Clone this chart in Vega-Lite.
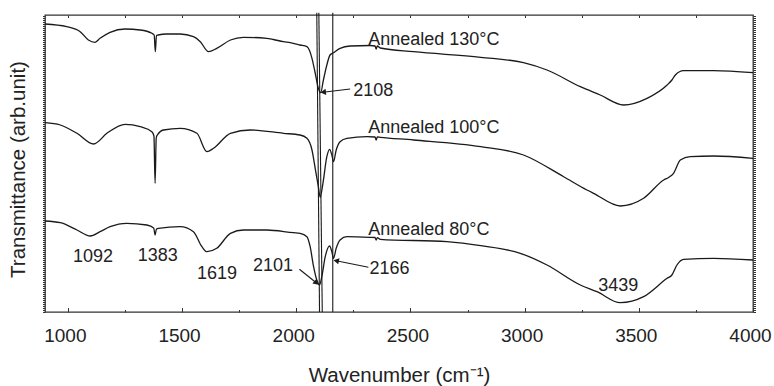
{
  "$schema": "https://vega.github.io/schema/vega-lite/v6.json",
  "width": 708,
  "height": 297,
  "autosize": "none",
  "padding": {"left": 45, "top": 15, "right": 21, "bottom": 74},
  "background": "white",
  "config": {
    "view": {"stroke": "#333333", "strokeWidth": 1.3},
    "font": "Liberation Sans",
    "axis": {"grid": false, "domain": false, "tickColor": "#333333", "labelColor": "#222222", "titleColor": "#222222", "titleFontWeight": "normal"}
  },
  "datasets": {
    "spectra": [
      {"s": "130", "w": 900, "t": 288}, {"s": "130", "w": 995, "t": 285.3}, {"s": "130", "w": 1054, "t": 280.3}, {"s": "130", "w": 1090, "t": 272}, {"s": "130", "w": 1119, "t": 269.7}, {"s": "130", "w": 1141, "t": 273.7}, {"s": "130", "w": 1185, "t": 279.7}, {"s": "130", "w": 1251, "t": 283}, {"s": "130", "w": 1317, "t": 282}, {"s": "130", "w": 1368, "t": 278.7}, {"s": "130", "w": 1378, "t": 277}, {"s": "130", "w": 1383, "t": 260.3}, {"s": "130", "w": 1388, "t": 276.5}, {"s": "130", "w": 1395, "t": 277}, {"s": "130", "w": 1433, "t": 278}, {"s": "130", "w": 1492, "t": 278}, {"s": "130", "w": 1550, "t": 275.3}, {"s": "130", "w": 1580, "t": 270.3}, {"s": "130", "w": 1616, "t": 260.3}, {"s": "130", "w": 1652, "t": 263.7}, {"s": "130", "w": 1712, "t": 272}, {"s": "130", "w": 1769, "t": 274.7}, {"s": "130", "w": 1871, "t": 273.7}, {"s": "130", "w": 1900, "t": 272.5}, {"s": "130", "w": 1944, "t": 270.3}, {"s": "130", "w": 1974, "t": 269.3}, {"s": "130", "w": 2017, "t": 267}, {"s": "130", "w": 2047, "t": 265.3}, {"s": "130", "w": 2069, "t": 253.7}, {"s": "130", "w": 2083, "t": 239}, {"s": "130", "w": 2097, "t": 223.7}, {"s": "130", "w": 2107, "t": 219.3}, {"s": "130", "w": 2119, "t": 232}, {"s": "130", "w": 2134, "t": 247}, {"s": "130", "w": 2148, "t": 257}, {"s": "130", "w": 2163, "t": 259.3}, {"s": "130", "w": 2192, "t": 263.7}, {"s": "130", "w": 2236, "t": 266}, {"s": "130", "w": 2324, "t": 266.5}, {"s": "130", "w": 2345, "t": 266}, {"s": "130", "w": 2350, "t": 263}, {"s": "130", "w": 2355, "t": 266}, {"s": "130", "w": 2368, "t": 264}, {"s": "130", "w": 2514, "t": 260.3}, {"s": "130", "w": 2808, "t": 254.7}, {"s": "130", "w": 2995, "t": 249.3}, {"s": "130", "w": 3098, "t": 242}, {"s": "130", "w": 3244, "t": 225.3}, {"s": "130", "w": 3331, "t": 217}, {"s": "130", "w": 3433, "t": 207}, {"s": "130", "w": 3536, "t": 213.7}, {"s": "130", "w": 3624, "t": 227}, {"s": "130", "w": 3645, "t": 232}, {"s": "130", "w": 3660, "t": 237}, {"s": "130", "w": 3696, "t": 241.3}, {"s": "130", "w": 3828, "t": 241.3}, {"s": "130", "w": 4000, "t": 239.3},

      {"s": "100", "w": 900, "t": 189.3}, {"s": "100", "w": 967, "t": 187}, {"s": "100", "w": 1040, "t": 178.7}, {"s": "100", "w": 1113, "t": 168}, {"s": "100", "w": 1171, "t": 178.7}, {"s": "100", "w": 1251, "t": 187.7}, {"s": "100", "w": 1317, "t": 185.3}, {"s": "100", "w": 1368, "t": 180.3}, {"s": "100", "w": 1377, "t": 176}, {"s": "100", "w": 1382, "t": 128.7}, {"s": "100", "w": 1387, "t": 174}, {"s": "100", "w": 1392, "t": 177}, {"s": "100", "w": 1419, "t": 182}, {"s": "100", "w": 1492, "t": 183.7}, {"s": "100", "w": 1565, "t": 178.7}, {"s": "100", "w": 1609, "t": 160.3}, {"s": "100", "w": 1638, "t": 163.7}, {"s": "100", "w": 1712, "t": 178.7}, {"s": "100", "w": 1799, "t": 182}, {"s": "100", "w": 1944, "t": 178.7}, {"s": "100", "w": 2017, "t": 177}, {"s": "100", "w": 2047, "t": 173.7}, {"s": "100", "w": 2069, "t": 162}, {"s": "100", "w": 2083, "t": 143.7}, {"s": "100", "w": 2097, "t": 125.3}, {"s": "100", "w": 2105, "t": 114.7}, {"s": "100", "w": 2117, "t": 128.7}, {"s": "100", "w": 2134, "t": 155.3}, {"s": "100", "w": 2146, "t": 162.7}, {"s": "100", "w": 2156, "t": 157}, {"s": "100", "w": 2163, "t": 150.3}, {"s": "100", "w": 2175, "t": 162}, {"s": "100", "w": 2192, "t": 170.3}, {"s": "100", "w": 2222, "t": 173.7}, {"s": "100", "w": 2309, "t": 175.3}, {"s": "100", "w": 2345, "t": 175}, {"s": "100", "w": 2350, "t": 172}, {"s": "100", "w": 2355, "t": 175}, {"s": "100", "w": 2368, "t": 174.7}, {"s": "100", "w": 2514, "t": 172}, {"s": "100", "w": 2808, "t": 165.3}, {"s": "100", "w": 2995, "t": 157}, {"s": "100", "w": 3171, "t": 135.3}, {"s": "100", "w": 3273, "t": 122}, {"s": "100", "w": 3302, "t": 118.7}, {"s": "100", "w": 3419, "t": 106}, {"s": "100", "w": 3521, "t": 113.7}, {"s": "100", "w": 3609, "t": 132}, {"s": "100", "w": 3630, "t": 134.5}, {"s": "100", "w": 3652, "t": 138.7}, {"s": "100", "w": 3682, "t": 152}, {"s": "100", "w": 3725, "t": 155.3}, {"s": "100", "w": 3828, "t": 156}, {"s": "100", "w": 4000, "t": 153.7},

      {"s": "80", "w": 900, "t": 91}, {"s": "80", "w": 967, "t": 89.3}, {"s": "80", "w": 1040, "t": 82}, {"s": "80", "w": 1098, "t": 76}, {"s": "80", "w": 1141, "t": 80.3}, {"s": "80", "w": 1185, "t": 85.3}, {"s": "80", "w": 1258, "t": 88.7}, {"s": "80", "w": 1346, "t": 87}, {"s": "80", "w": 1376, "t": 84}, {"s": "80", "w": 1382, "t": 77}, {"s": "80", "w": 1388, "t": 83}, {"s": "80", "w": 1397, "t": 83.7}, {"s": "80", "w": 1492, "t": 85.3}, {"s": "80", "w": 1550, "t": 80.3}, {"s": "80", "w": 1587, "t": 65.3}, {"s": "80", "w": 1609, "t": 60.3}, {"s": "80", "w": 1652, "t": 63.7}, {"s": "80", "w": 1712, "t": 78.7}, {"s": "80", "w": 1769, "t": 82}, {"s": "80", "w": 1871, "t": 82}, {"s": "80", "w": 1988, "t": 79.3}, {"s": "80", "w": 2017, "t": 78.7}, {"s": "80", "w": 2047, "t": 75.3}, {"s": "80", "w": 2061, "t": 65.3}, {"s": "80", "w": 2076, "t": 45.3}, {"s": "80", "w": 2090, "t": 32}, {"s": "80", "w": 2102, "t": 27}, {"s": "80", "w": 2112, "t": 35.3}, {"s": "80", "w": 2127, "t": 55.3}, {"s": "80", "w": 2146, "t": 66}, {"s": "80", "w": 2156, "t": 60.3}, {"s": "80", "w": 2163, "t": 53.7}, {"s": "80", "w": 2175, "t": 63.7}, {"s": "80", "w": 2192, "t": 72}, {"s": "80", "w": 2222, "t": 75.3}, {"s": "80", "w": 2324, "t": 74.7}, {"s": "80", "w": 2345, "t": 74.5}, {"s": "80", "w": 2350, "t": 72}, {"s": "80", "w": 2355, "t": 74.3}, {"s": "80", "w": 2368, "t": 72.7}, {"s": "80", "w": 2660, "t": 70.3}, {"s": "80", "w": 2808, "t": 66.3}, {"s": "80", "w": 2981, "t": 58.7}, {"s": "80", "w": 3098, "t": 47}, {"s": "80", "w": 3244, "t": 27}, {"s": "80", "w": 3317, "t": 20.3}, {"s": "80", "w": 3419, "t": 9.3}, {"s": "80", "w": 3521, "t": 15.3}, {"s": "80", "w": 3624, "t": 33.7}, {"s": "80", "w": 3645, "t": 37}, {"s": "80", "w": 3667, "t": 47}, {"s": "80", "w": 3696, "t": 52.7}, {"s": "80", "w": 3828, "t": 53.7}, {"s": "80", "w": 4000, "t": 52}
    ],
    "vlines": [
      {"xb": 2102, "xt": 2090, "yb": 0, "yt": 299.3},
      {"xb": 2114, "xt": 2099, "yb": 0, "yt": 299.3},
      {"xb": 2160, "xt": 2160, "yb": 0, "yt": 299.3}
    ],
    "labels": [
      {"label": "Annealed 130°C", "x": 2315, "y": 272},
      {"label": "Annealed 100°C", "x": 2315, "y": 184},
      {"label": "Annealed 80°C", "x": 2315, "y": 82},
      {"label": "2108", "x": 2250, "y": 221},
      {"label": "2101", "x": 1811, "y": 46},
      {"label": "2166", "x": 2321, "y": 43},
      {"label": "1092", "x": 1023, "y": 55},
      {"label": "1383", "x": 1306, "y": 56},
      {"label": "1619", "x": 1565, "y": 38},
      {"label": "3439", "x": 3322, "y": 26.5}
    ],
    "arrows": [
      {"label": "2108", "x": 2236, "y": 223, "x2": 2118, "y2": 219.8},
      {"label": "2101", "x": 2014, "y": 42.7, "x2": 2089, "y2": 29},
      {"label": "2166", "x": 2316, "y": 44.7, "x2": 2175, "y2": 51.3}
    ]
  },
  "layer": [
    {
      "data": {"name": "spectra"},
      "mark": {"type": "line", "color": "#1a1a1a", "strokeWidth": 1.3, "interpolate": "monotone"},
      "encoding": {
        "x": {"field": "w", "type": "quantitative", "scale": {"domain": [900, 4000], "nice": false, "zero": false},
          "axis": {"orient": "bottom", "values": [1000, 1500, 2000, 2500, 3000, 3500, 4000], "format": "d", "title": "Wavenumber (cm⁻¹)", "labelFontSize": 19, "titleFontSize": 20.5, "tickSize": -4.5, "labelPadding": 19, "titlePadding": 20, "labelFlush": false, "labelOffset": -3}},
        "y": {"field": "t", "type": "quantitative", "scale": {"domain": [0, 297], "nice": false, "zero": false},
          "axis": {"orient": "left", "labels": false, "tickCount": 150, "tickSize": 2.5, "title": "Transmittance (arb.unit)", "titleFontSize": 20.5, "titleX": -27, "titleY": 154, "titleBaseline": "middle", "titleAlign": "center", "titleAngle": -90}},
        "detail": {"field": "s"}
      }
    },
    {
      "data": {"name": "vlines"},
      "mark": {"type": "rule", "color": "#1a1a1a", "strokeWidth": 1.1},
      "encoding": {
        "x": {"field": "xb", "type": "quantitative", "scale": {"domain": [900, 4000], "nice": false, "zero": false},
          "axis": {"orient": "top", "values": [1000, 1250, 1500, 1750, 2000, 2250, 2500, 2750, 3000, 3250, 3500, 3750], "labels": false, "tickSize": -2.5, "title": null}},
        "x2": {"field": "xt"},
        "y": {"field": "yb", "type": "quantitative", "scale": {"domain": [0, 297], "nice": false, "zero": false}, "axis": null},
        "y2": {"field": "yt"}
      }
    },
    {
      "data": {"name": "labels"},
      "mark": {"type": "text", "align": "left", "baseline": "middle", "fontSize": 18, "color": "#222222", "font": "Liberation Sans"},
      "encoding": {
        "x": {"field": "x", "type": "quantitative", "scale": {"domain": [900, 4000], "nice": false, "zero": false},
          "axis": {"orient": "bottom", "values": [1250, 1750, 2250, 2750, 3250, 3750], "labels": false, "tickSize": -2.5, "title": null}},
        "y": {"field": "y", "type": "quantitative", "scale": {"domain": [0, 297], "nice": false, "zero": false},
          "axis": {"orient": "right", "labels": false, "tickCount": 150, "tickSize": 2.5, "title": null}},
        "text": {"field": "label"}
      }
    },
    {
      "data": {"name": "arrows"},
      "mark": {"type": "rule", "color": "#1a1a1a", "strokeWidth": 1.1},
      "encoding": {
        "x": {"field": "x", "type": "quantitative", "scale": {"domain": [900, 4000], "nice": false, "zero": false}, "axis": null},
        "x2": {"field": "x2"},
        "y": {"field": "y", "type": "quantitative", "scale": {"domain": [0, 297], "nice": false, "zero": false}, "axis": null},
        "y2": {"field": "y2"}
      }
    },
    {
      "data": {"name": "arrows"},
      "transform": [{"filter": "datum.label == '2108'"}],
      "mark": {"type": "point", "shape": "triangle-left", "filled": true, "color": "#1a1a1a", "size": 40, "opacity": 1, "angle": -7},
      "encoding": {
        "x": {"field": "x2", "type": "quantitative", "scale": {"domain": [900, 4000], "nice": false, "zero": false}, "axis": null},
        "y": {"field": "y2", "type": "quantitative", "scale": {"domain": [0, 297], "nice": false, "zero": false}, "axis": null}
      }
    },
    {
      "data": {"name": "arrows"},
      "transform": [{"filter": "datum.label == '2101'"}],
      "mark": {"type": "point", "shape": "triangle-right", "filled": true, "color": "#1a1a1a", "size": 40, "opacity": 1, "angle": 41},
      "encoding": {
        "x": {"field": "x2", "type": "quantitative", "scale": {"domain": [900, 4000], "nice": false, "zero": false}, "axis": null},
        "y": {"field": "y2", "type": "quantitative", "scale": {"domain": [0, 297], "nice": false, "zero": false}, "axis": null}
      }
    },
    {
      "data": {"name": "arrows"},
      "transform": [{"filter": "datum.label == '2166'"}],
      "mark": {"type": "point", "shape": "triangle-left", "filled": true, "color": "#1a1a1a", "size": 40, "opacity": 1, "angle": 12},
      "encoding": {
        "x": {"field": "x2", "type": "quantitative", "scale": {"domain": [900, 4000], "nice": false, "zero": false}, "axis": null},
        "y": {"field": "y2", "type": "quantitative", "scale": {"domain": [0, 297], "nice": false, "zero": false}, "axis": null}
      }
    }
  ],
  "resolve": {"axis": {"x": "independent", "y": "independent"}}
}
